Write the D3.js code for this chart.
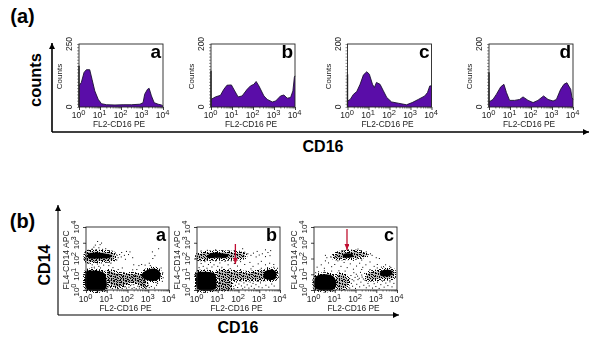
<!DOCTYPE html>
<html>
<head>
<meta charset="utf-8">
<script src="https://cdnjs.cloudflare.com/ajax/libs/d3/7.8.5/d3.min.js"></script>
<style>
  html, body { margin: 0; padding: 0; background: #fff; }
  text { font-family: "Liberation Sans", Arial, sans-serif; }
</style>
</head>
<body>
<div id="chart"></div>
<script>
// histogram values: log10(CD16) and counts
const histA = {
  logs:   [0, .11, .24, .35, .51, .62, .75, .91, 1.07, 1.31, 1.71, 2.1, 2.5, 2.9, 3.05, 3.13, 3.26, 3.34, 3.45, 3.58, 3.77, 3.93, 4],
  counts: [84, 97, 137, 148, 148, 110, 64, 31, 13, 9, 8, 9, 9, 11, 17, 51, 70, 74, 44, 17, 11, 8, 3]
};
const histB = {
  logs:   [0, .21, .45, .61, .76, .97, 1.13, 1.29, 1.48, 1.72, 1.88, 2.04, 2.15, 2.28, 2.52, 2.68, 2.92, 3.08, 3.31, 3.47, 3.63, 3.79, 3.9, 3.97, 4],
  counts: [24, 32, 37, 56, 69, 70, 51, 32, 35, 56, 67, 72, 81, 67, 35, 24, 16, 19, 35, 38, 28, 30, 51, 94, 99]
};
const histC = {
  logs:   [0, .13, .28, .44, .6, .76, .92, 1.04, 1.19, 1.28, 1.38, 1.55, 1.71, 1.87, 2.1, 2.42, 2.81, 3.08, 3.37, 3.68, 3.81, 3.92, 4],
  counts: [19, 24, 40, 49, 72, 102, 112, 104, 72, 62, 78, 72, 51, 30, 16, 12, 7, 14, 24, 35, 46, 67, 67]
};
const histD = {
  logs:   [0, .19, .35, .56, .71, .83, .98, 1.22, 1.46, 1.62, 1.86, 2.1, 2.33, 2.6, 2.81, 3.05, 3.21, 3.41, 3.57, 3.71, 3.89, 3.95, 4],
  counts: [16, 24, 40, 64, 72, 46, 21, 21, 24, 32, 21, 14, 21, 35, 24, 19, 24, 56, 72, 77, 56, 30, 24]
};
const histLetters = ['a', 'b', 'c', 'd'];
const histSpikes = [164, 115, 104, 110];
const histMax = [250, 200, 200, 200];
const decades = [1, 10, 100, 1000, 10000];
const minorTicks = [2, 3, 4, 5, 6, 7, 8, 9];

// scatter populations, all in log10 units: [CD16, CD14]
const solidA = [
  [[.03, .08], [.95, .08], [.98, .7], [.9, 1.05], [.65, 1.2], [.2, 1.24], [.03, 1.2]],
  [[.1, 2.05], [.7, 2.0], [1.15, 2.05], [1.25, 2.18], [.95, 2.3], [.5, 2.36], [.1, 2.28]],
  [[2.72, .8], [3.05, .6], [3.42, .62], [3.6, .85], [3.52, 1.22], [3.25, 1.36], [2.92, 1.25], [2.7, 1.02]]
];
const hazeA = [
  [[1.05, .55], [1.5, .2], [2.3, .5], [2.85, .2], [2.85, .85], [2.4, 1.0], [1.6, 1.02], [1.05, 1.2]],
  [[.03, 1.85], [.8, 1.85], [1.35, 1.95], [1.35, 2.3], [.8, 2.42], [.03, 2.38]]
];
const dotsA = [
  [1.02,.12],[1.05,.45],[1.08,.78],[1.1,.25],[1.12,1.05],[1.15,.6],[1.18,.15],[1.2,.9],[1.22,.38],[1.25,.72],[1.27,.1],[1.3,1.0],[1.32,.52],[1.35,.22],[1.38,.83],[1.4,.66],[1.42,.14],[1.45,.95],[1.47,.42],[1.5,.75],[1.52,.08],[1.55,.58],[1.57,1.02],[1.6,.3],[1.62,.86],[1.65,.16],[1.67,.68],[1.7,.47],[1.72,.98],[1.75,.1],[1.77,.8],[1.8,.35],[1.82,.62],[1.85,1.08],[1.87,.2],[1.9,.88],[1.92,.54],[1.95,.12],[1.97,.74],[2,.4],[2.02,1.0],[2.05,.65],[2.07,.18],[2.1,.92],[2.12,.5],[2.15,.28],[2.17,.78],[2.2,1.1],[2.22,.1],[2.25,.6],[2.27,.84],[2.3,.34],[2.32,.15],[2.35,.96],[2.37,.7],[2.4,.44],[2.42,.08],[2.45,.88],[2.47,.58],[2.5,.24],[2.52,1.05],[2.55,.75],[2.57,.12],[2.6,.5],[2.62,.32],[2.65,.9],[2.67,.18],[2.7,.66],[2.72,.42],[2.75,.1],[2.78,.28],[2.8,.55],[2.85,.2],[2.9,.12],[3.0,.3],[3.05,.15],[3.15,.22],[3.3,.12],[3.4,.3],
  [.15,1.72],[.3,1.6],[.42,1.78],[.55,1.65],[.62,1.5],[.75,1.72],[.85,1.58],[.98,1.76],[.4,1.45],[1.1,1.55],[.28,1.42],[.7,1.4],
  [.12,2.52],[.3,2.6],[.48,2.55],[.62,2.68],[.8,2.58],[.95,2.62],[1.12,2.5],[1.28,2.46],[1.42,2.35],[1.5,2.2],[1.55,2.05],[1.48,1.9],[1.62,2.25],[1.7,2.1],
  [.56,3.08],[.45,2.85],[.68,2.88],[.75,2.98],[.38,2.72],
  [1.72,2.38],[1.85,2.2],[1.95,2.45],[2.05,2.25],[2.12,2.42],[1.9,1.95],[2.25,2.05],[2.3,1.6],[2.55,1.55],[2.68,1.62],[2.85,1.58],[3.05,1.7],[3.22,2.0],[3.32,2.18],[3.2,2.42],[3.5,2.62],[3.62,1.4],[3.7,1.1],[3.72,.78],[3.68,.55],[3.45,.42],[3.1,1.55],[2.45,1.3],[2.25,1.28],[1.75,1.4],[1.55,1.3],[1.3,1.42],[1.2,1.7]
];

const solidB = [
  [[.03, .08], [.9, .08], [.93, .6], [.87, 1.02], [.6, 1.14], [.2, 1.16], [.03, 1.12]],
  [[.48, 2.08], [1.0, 2.04], [1.45, 2.08], [1.52, 2.24], [1.1, 2.34], [.62, 2.32]],
  [[3.2, .78], [3.55, .64], [3.78, .72], [3.82, 1.12], [3.6, 1.3], [3.28, 1.18]]
];
const hazeB = [
  [[1.0, .7], [2.2, .68], [3.3, .75], [3.3, 1.15], [2.5, 1.08], [1.7, 1.16], [1.0, 1.18]],
  [[.03, 2.0], [.6, 1.98], [1.6, 2.0], [2.3, 2.08], [2.3, 2.25], [1.5, 2.38], [.5, 2.36], [.03, 2.22]],
  [[1.05, .12], [1.65, .12], [1.6, .5], [1.05, .55]]
];
const dotsB = [
  [1.0,.2],[1.04,.42],[1.08,.12],[1.12,.5],[1.18,.28],[1.22,.08],[1.28,.38],[1.32,.55],[1.38,.18],[1.42,.46],[1.5,.1],[1.54,.32],[1.6,.52],[1.66,.22],[1.72,.42],[1.78,.1],[1.85,.3],[1.9,.5],[1.96,.16],[2.02,.38],[2.08,.58],[2.14,.26],[2.2,.08],[2.26,.45],[2.3,.18],[2.36,.56],[2.42,.33],[2.5,.12],[2.56,.5],[2.62,.24],[2.7,.42],[2.76,.1],[2.84,.34],[2.9,.55],[2.98,.2],[3.06,.45],[3.14,.14],[3.2,.58],[3.32,.3],[3.46,.18],[3.6,.38],[3.72,.25],
  [1.05,.72],[1.15,1.02],[1.25,.84],[1.35,.66],[1.45,1.1],[1.55,.78],[1.65,.95],[1.75,.7],[1.85,1.15],[1.95,.82],[2.05,1.0],[2.15,.68],[2.25,.92],[2.35,1.12],[2.45,.76],[2.55,.98],[2.65,.66],[2.75,1.08],[2.85,.85],[2.95,1.0],[3.05,.72],[3.12,1.14],[3.9,1.05],[3.92,.8],[3.88,1.38],[3.7,1.45],[3.4,1.42],[3.1,1.38],[2.6,1.34],[2.1,1.3],[1.6,1.36],[1.3,1.3],
  [.1,1.42],[.2,1.68],[.3,1.5],[.38,1.8],[.48,1.38],[.55,1.62],[.65,1.75],[.72,1.46],[.82,1.6],[.9,1.85],[1.0,1.5],[1.1,1.72],[1.2,1.44],[1.35,1.82],[1.5,1.6],[.15,1.9],[.44,1.92],[.75,1.9],[1.65,1.85],[1.8,1.68],[1.95,1.52],[2.1,1.8],[2.3,1.62],[2.55,1.75],[2.7,1.5],[2.95,1.66],[3.1,1.82],[3.3,1.6],[3.5,1.7],[3.7,1.62],
  [.2,2.48],[.5,2.52],[.9,2.55],[1.25,2.5],[1.55,2.48],[1.8,2.5],[2.05,2.46],[2.3,2.4],[2.45,2.3],[2.6,2.2],[2.72,2.34],[2.85,2.1],[3.0,2.22],[3.15,2.3],[3.3,2.12],[3.42,2.38],[3.52,2.18],[3.3,2.55],[2.9,2.45],[2.2,2.62],[3.55,2.5]
];

const solidC = [
  [[.08, .1], [1.0, .1], [1.05, .6], [.9, .9], [.6, 1.0], [.22, .95], [.06, .8]],
  [[1.4, 2.1], [1.7, 2.05], [1.9, 2.15], [1.84, 2.28], [1.55, 2.33], [1.4, 2.24]],
  [[3.2, .92], [3.6, .88], [3.78, 1.02], [3.72, 1.24], [3.42, 1.28], [3.2, 1.14]]
];
const hazeC = [
  [[2.55, .68], [3.2, .72], [3.82, .8], [3.82, 1.25], [3.2, 1.2], [2.6, 1.05]],
  [[1.12, .15], [1.55, .18], [1.65, .6], [1.45, .95], [1.12, .95]],
  [[.95, 2.05], [1.4, 2.02], [2.15, 2.08], [2.55, 2.2], [2.15, 2.42], [1.6, 2.42], [1.05, 2.28]]
];
const dotsC = [
  [1.72,.12],[1.8,.42],[1.86,.24],[1.92,.58],[2.0,.1],[2.06,.36],[2.12,.66],[2.2,.2],[2.26,.5],[2.32,.82],[2.4,.3],[2.46,.62],[2.52,.14],[2.6,.42],[2.66,.26],[2.74,.54],[2.82,.12],[2.9,.4],[2.98,.22],[3.06,.5],[3.14,.1],[3.22,.34],[3.3,.56],[3.38,.18],[3.46,.44],[3.56,.28],[3.66,.52],[3.76,.2],[3.85,.42],
  [1.72,.72],[1.78,.92],[1.84,.66],[1.92,1.1],[1.98,.8],[2.04,1.0],[2.1,.88],[2.18,.74],[2.24,1.12],[2.3,.95],[2.38,.7],[2.44,1.05],[2.5,.85],[3.92,.8],[3.9,1.1],[3.7,1.42],[3.35,1.48],[3.05,1.4],[2.7,1.3],[2.3,1.3],[1.9,1.32],[1.5,1.2],[1.2,1.22],[.85,1.2],[.5,1.22],[.22,1.16],[.08,1.1],
  [.15,1.45],[.35,1.6],[.5,1.38],[.7,1.72],[.85,1.48],[1.0,1.62],[1.15,1.85],[1.3,1.5],[1.45,1.75],[1.6,1.42],[1.75,1.66],[1.9,1.88],[2.05,1.52],[2.2,1.7],[2.35,1.44],[2.5,1.6],[2.7,1.78],[2.9,1.5],[3.05,1.62],[3.25,1.45],[3.45,1.6],[3.65,1.5],[.55,1.85],[1.5,1.95],[2.3,1.9],
  [.8,2.1],[.9,2.25],[1.0,2.05],[1.12,2.18],[1.2,2.35],[1.28,2.02],[1.32,2.42],[1.45,2.5],[1.65,2.55],[1.82,2.52],[2.0,2.45],[2.12,2.6],[2.28,2.5],[2.42,2.35],[2.52,2.42],[2.6,2.25],[2.72,2.3],[2.8,2.2],[2.4,2.12],[2.25,2.0],[2.08,2.02],[3.0,2.05],[3.15,2.0],[.55,2.2],[.62,2.05]
];

const scatterLetters = ['a', 'b', 'c'];
const scatterSolids = [solidA, solidB, solidC];
const scatterHazes = [hazeA, hazeB, hazeC];
const scatterDots = [dotsA, dotsB, dotsC];
// red arrows: [log CD16, log CD14 tail, log CD14 head]
const arrowB = [1.85, 2.92, 1.65];
const arrowC = [1.59, 3.87, 2.54];
const scatterArrows = [null, arrowB, arrowC];

// speckle texture for the crowded parts of the dot plots
const stippleRows = [
  '#..#.##..#.#',
  '.#....#.#...',
  '##.#.....#.#',
  '...##.#.....',
  '#.....#.##.#',
  '.#.#.....#..',
  '..##.#.#...#',
  '#......#.#..',
  '.#.#.#....#.',
  '#..#...##...'
];

const width = 600, height = 345;
const svg = d3.select('#chart').append('svg')
  .attr('width', width)
  .attr('height', height)
  .style('display', 'block');

const defs = svg.append('defs');
defs.append('filter').attr('id', 'soft')
  .append('feGaussianBlur').attr('stdDeviation', 0.35);

const stipple = defs.append('pattern').attr('id', 'stipple')
  .attr('patternUnits', 'userSpaceOnUse')
  .attr('width', stippleRows[0].length)
  .attr('height', stippleRows.length);
stippleRows.forEach((row, r) => {
  row.split('').forEach((c, k) => {
    if (c === '#') stipple.append('rect').attr('x', k).attr('y', r).attr('width', 1).attr('height', 1).attr('fill', '#000');
  });
});

function addArrowHead(id, color, w, h) {
  defs.append('marker').attr('id', id)
    .attr('viewBox', `0 0 ${w} ${h}`)
    .attr('refX', w).attr('refY', h / 2)
    .attr('markerUnits', 'userSpaceOnUse')
    .attr('markerWidth', w).attr('markerHeight', h)
    .attr('orient', 'auto')
    .append('path')
    .attr('d', `M0,0L${w},${h / 2}L0,${h}Z`)
    .attr('fill', color);
}
addArrowHead('headBlack', '#000', 6, 6);
addArrowHead('headRed', '#c01030', 6, 5);

// 10 with a raised exponent, the way the cytometer software prints it
function powerLabel(sel, exp) {
  sel.append('tspan').text('10');
  sel.append('tspan').attr('dy', -3).attr('font-size', 7.5).text(exp);
}

function drawAxisX(g, x, y0, labelY, nameY) {
  const allTicks = [];
  decades.slice(0, 4).forEach(d => minorTicks.forEach(m => allTicks.push(d * m)));
  g.append('g')
    .attr('transform', `translate(0,${y0})`)
    .call(d3.axisBottom(x).tickValues(allTicks).tickSize(1.5).tickFormat(''))
    .call(a => a.select('.domain').remove())
    .call(a => a.selectAll('line').attr('stroke', '#222').attr('stroke-width', 0.6));
  g.append('g')
    .attr('transform', `translate(0,${y0})`)
    .call(d3.axisBottom(x).tickValues(decades).tickSize(3).tickFormat(''))
    .call(a => a.select('.domain').remove())
    .call(a => a.selectAll('line').attr('stroke', '#111').attr('stroke-width', 0.8));
  decades.forEach((d, i) => {
    g.append('text')
      .attr('x', x(d) - 0.5)
      .attr('y', labelY)
      .attr('text-anchor', 'middle')
      .attr('font-size', 8.5)
      .attr('fill', '#222')
      .call(powerLabel, i);
  });
  g.append('text')
    .attr('x', (x.range()[0] + x.range()[1]) / 2 - 2)
    .attr('y', nameY)
    .attr('text-anchor', 'middle')
    .attr('font-size', 8.4)
    .attr('fill', '#222')
    .text('FL2-CD16 PE');
}

function drawFrame(g, x0, x1, y0, y1) {
  g.append('rect')
    .attr('x', x0).attr('y', y1)
    .attr('width', x1 - x0).attr('height', y0 - y1)
    .attr('fill', 'none')
    .attr('stroke', '#222')
    .attr('stroke-width', 0.9);
}

function drawHist(h, i, left) {
  const plotW = 84, top = 44, bottom = 107;
  const x = d3.scaleLog().domain([1, 10000]).range([left, left + plotW]);
  const y = d3.scaleLinear().domain([0, histMax[i]]).range([bottom, top]);
  const g = svg.append('g').attr('class', 'hist').attr('filter', 'url(#soft)');
  const pts = h.logs.map((l, k) => [Math.pow(10, l), h.counts[k]]);

  const area = d3.area().x(d => x(d[0])).y0(y(0)).y1(d => y(d[1]));
  const line = d3.line().x(d => x(d[0])).y(d => y(d[1]));
  g.append('path').attr('d', area(pts)).attr('fill', '#5a0ca8');
  g.append('path').attr('d', line(pts)).attr('fill', 'none').attr('stroke', '#1a1030').attr('stroke-width', 0.9);
  g.append('line')
    .attr('x1', x(1)).attr('x2', x(1))
    .attr('y1', y(0)).attr('y2', y(histSpikes[i]))
    .attr('stroke', '#222').attr('stroke-width', 1.4);

  // dense left-hand ticks of the count axis
  const yTicks = d3.range(0, 21).map(k => histMax[i] * k / 20);
  g.append('g')
    .attr('transform', `translate(${left},0)`)
    .call(d3.axisLeft(y).tickValues(yTicks).tickSize(2).tickFormat(''))
    .call(a => a.select('.domain').remove())
    .call(a => a.selectAll('line').attr('stroke', '#333').attr('stroke-width', 0.5));

  drawFrame(g, left, left + plotW, bottom, top);
  drawAxisX(g, x, bottom, 117.5, 127);

  [[0, '0'], [histMax[i], String(histMax[i])]].forEach(t => {
    g.append('text')
      .attr('transform', `translate(${left - 7},${y(t[0])}) rotate(-90)`)
      .attr('text-anchor', 'middle')
      .attr('font-size', 8.5)
      .attr('fill', '#222')
      .text(t[1]);
  });
  g.append('text')
    .attr('transform', `translate(${left - 17},${(top + bottom) / 2 + 1}) rotate(-90)`)
    .attr('text-anchor', 'middle')
    .attr('font-size', 8)
    .attr('fill', '#222')
    .text('Counts');
  g.append('text')
    .attr('x', left + plotW - 2)
    .attr('y', 58)
    .attr('text-anchor', 'end')
    .attr('font-size', 19)
    .attr('font-weight', 'bold')
    .text(histLetters[i]);
}

function drawScatter(i, left) {
  const plotW = 83, top = 227, bottom = 290;
  const x = d3.scaleLog().domain([1, 10000]).range([left, left + plotW]);
  const y = d3.scaleLog().domain([1, 10000]).range([bottom, top]);
  const g = svg.append('g').attr('class', 'scatter').attr('filter', 'url(#soft)');
  const px = l => x(Math.pow(10, l));
  const py = l => y(Math.pow(10, l));
  const blob = d3.line().x(d => px(d[0])).y(d => py(d[1])).curve(d3.curveCatmullRomClosed);

  const marks = g.append('g');
  marks.selectAll('path.tone').data(scatterHazes[i]).enter().append('path')
    .attr('class', 'tone').attr('d', blob)
    .attr('fill', '#000').attr('opacity', 0.28);
  marks.selectAll('path.haze').data(scatterHazes[i]).enter().append('path')
    .attr('class', 'haze').attr('d', blob)
    .attr('fill', 'url(#stipple)')
    .attr('stroke', 'url(#stipple)')
    .attr('stroke-width', 4);
  marks.selectAll('path.solid').data(scatterSolids[i]).enter().append('path')
    .attr('class', 'solid').attr('d', blob)
    .attr('fill', '#000')
    .attr('stroke', 'url(#stipple)')
    .attr('stroke-width', 4);
  marks.selectAll('rect').data(scatterDots[i]).enter().append('rect')
    .attr('x', d => px(d[0]) - 0.5)
    .attr('y', d => py(d[1]) - 0.5)
    .attr('width', 1).attr('height', 1)
    .attr('fill', '#000');

  drawFrame(g, left, left + plotW, bottom, top);
  g.append('g')
    .attr('transform', `translate(${left},0)`)
    .call(d3.axisLeft(y).tickValues(decades).tickSize(3).tickFormat(''))
    .call(a => a.select('.domain').remove())
    .call(a => a.selectAll('line').attr('stroke', '#111').attr('stroke-width', 0.8));
  drawAxisX(g, x, bottom, 302, 311);

  decades.forEach((d, k) => {
    g.append('text')
      .attr('transform', `translate(${left - 7},${y(d)}) rotate(-90)`)
      .attr('text-anchor', 'middle')
      .attr('font-size', 8)
      .attr('fill', '#222')
      .call(powerLabel, k);
  });
  g.append('text')
    .attr('transform', `translate(${left - 17},260) rotate(-90)`)
    .attr('text-anchor', 'middle')
    .attr('font-size', 8.6)
    .attr('fill', '#222')
    .text('FL4-CD14 APC');
  g.append('text')
    .attr('x', left + plotW - 3)
    .attr('y', 241)
    .attr('text-anchor', 'end')
    .attr('font-size', 18)
    .attr('font-weight', 'bold')
    .text(scatterLetters[i]);

  const arrow = scatterArrows[i];
  if (arrow) {
    g.append('line')
      .attr('x1', px(arrow[0])).attr('x2', px(arrow[0]))
      .attr('y1', py(arrow[1])).attr('y2', py(arrow[2]))
      .attr('stroke', '#c01030').attr('stroke-width', 1.3)
      .attr('marker-end', 'url(#headRed)');
  }
}

[histA, histB, histC, histD].forEach((h, i) => drawHist(h, i, [79, 211, 347.5, 489][i]));
[86, 197, 314].forEach((l, i) => drawScatter(i, l));

// big axes with arrow heads
function bigAxis(points, w) {
  svg.append('path')
    .attr('d', d3.line()(points))
    .attr('fill', 'none')
    .attr('stroke', '#000')
    .attr('stroke-width', w)
    .attr('marker-end', 'url(#headBlack)');
}
bigAxis([[52, 132], [52, 43]], 1.6);
bigAxis([[52, 132], [589, 132]], 1.6);
bigAxis([[58, 315], [58, 205]], 1.1);
bigAxis([[58, 315], [399, 315]], 1.1);

function bigLabel(txt, x, y, size, rotate) {
  svg.append('text')
    .attr('transform', `translate(${x},${y})${rotate ? ' rotate(-90)' : ''}`)
    .attr('text-anchor', 'middle')
    .attr('font-size', size)
    .attr('font-weight', 'bold')
    .text(txt);
}
bigLabel('(a)', 22.5, 23, 20, false);
bigLabel('(b)', 22.5, 228, 20, false);
bigLabel('counts', 41, 80, 16.5, true);
bigLabel('CD16', 323, 152, 16, false);
bigLabel('CD14', 50, 265, 16, true);
bigLabel('CD16', 238, 333, 16, false);
</script>
</body>
</html>
